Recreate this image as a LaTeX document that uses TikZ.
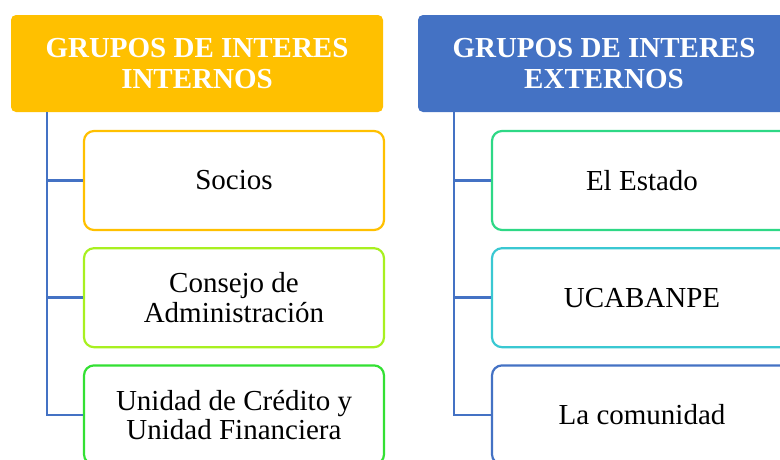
\documentclass[tikz,border=0pt]{standalone}
\usepackage{fontspec}
\setmainfont{Liberation Serif}
\usetikzlibrary{positioning}

\definecolor{hdrgold}{HTML}{FFC000}
\definecolor{hdrblue}{HTML}{4472C4}
\definecolor{limeline}{HTML}{A8F020}
\definecolor{greenline}{HTML}{33E033}
\definecolor{mintline}{HTML}{2ED886}
\definecolor{cyanline}{HTML}{3AC8D2}

\begin{document}
\begin{tikzpicture}[
    x=1pt, y=-1pt,
    header/.style={rounded corners=5pt, align=center, minimum width=372pt,
      minimum height=97pt, text=white, inner sep=0pt,
      font=\fontsize{29}{31}\selectfont\bfseries},
    item/.style={draw, line width=2.2pt, rounded corners=10pt, align=center,
      minimum width=300pt, minimum height=99pt, fill=white, inner sep=0pt,
      font=\fontsize{29}{29.5}\selectfont},
    link/.style={draw=hdrblue, line width=2.6pt}
  ]
    \useasboundingbox (0,0) rectangle (780,459);
    \clip (0,0) rectangle (780,459);

    % internal stakeholders
    \node[header, fill=hdrgold] (hdrint) at (197,63.5) {GRUPOS DE INTERES\\INTERNOS};
    \node[item, draw=hdrgold] (socios) at (234,180.5) {Socios};
    \node[item, draw=limeline, below=16pt of socios] (consejo) {Consejo de\\Administración};
    \node[item, draw=greenline, below=16pt of consejo] (unidad) {Unidad de Crédito y\\Unidad Financiera};

    \draw[link] ([xshift=36pt]hdrint.south west) |- (socios.west);
    \draw[link] ([xshift=36pt]hdrint.south west) |- (consejo.west);
    \draw[link] ([xshift=36pt]hdrint.south west) |- (unidad.west);

    % external stakeholders
    \node[header, fill=hdrblue] (hdrext) at (604,63.5) {GRUPOS DE INTERES\\EXTERNOS};
    \node[item, draw=mintline] (estado) at (642,180.5) {El Estado};
    \node[item, draw=cyanline, below=16pt of estado] (ucabanpe) {UCABANPE};
    \node[item, draw=hdrblue, below=16pt of ucabanpe] (comunidad) {La comunidad};

    \draw[link] ([xshift=36pt]hdrext.south west) |- (estado.west);
    \draw[link] ([xshift=36pt]hdrext.south west) |- (ucabanpe.west);
    \draw[link] ([xshift=36pt]hdrext.south west) |- (comunidad.west);
  \end{tikzpicture}
\end{document}
